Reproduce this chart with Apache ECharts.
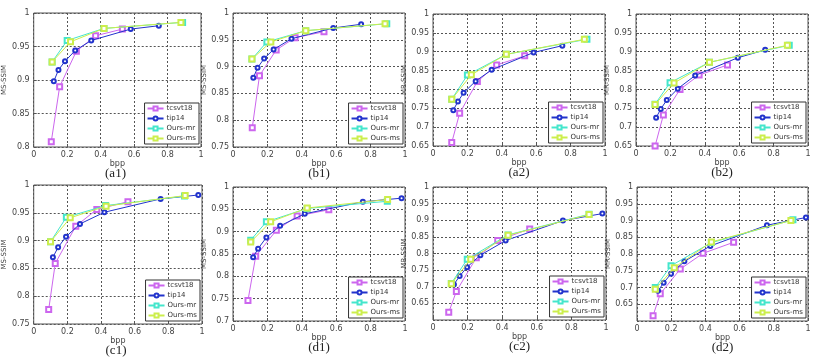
<!DOCTYPE html>
<html>
<head>
<meta charset="utf-8">
<script src="https://cdn.jsdelivr.net/npm/echarts@6/dist/echarts.min.js"></script>
<style>
  html, body { margin: 0; padding: 0; background: #fff; }
  #chart { width: 831px; height: 362px; }
</style>
</head>
<body>
<div id="chart"></div>
<script>
// series names, in legend order
const seriesNames = ['tcsvt18', 'tip14', 'Ours-mr', 'Ours-ms'];
const xTicks = [0, 0.2, 0.4, 0.6, 0.8, 1];

// (a1)
const a1Tcsvt18 = [[0.105, 0.808], [0.155, 0.890], [0.255, 0.943], [0.37, 0.966], [0.53, 0.976]];
const a1Tip14 = [[0.12, 0.898], [0.148, 0.915], [0.187, 0.928], [0.248, 0.944], [0.344, 0.959], [0.58, 0.976], [0.748, 0.981]];
const a1Mr = [[0.11, 0.927], [0.2, 0.959], [0.42, 0.977], [0.89, 0.986]];
const a1Ms = [[0.11, 0.927], [0.22, 0.957], [0.42, 0.977], [0.88, 0.986]];
// (b1)
const b1Tcsvt18 = [[0.112, 0.786], [0.154, 0.883], [0.251, 0.931], [0.361, 0.954], [0.529, 0.965]];
const b1Tip14 = [[0.118, 0.879], [0.143, 0.898], [0.181, 0.915], [0.236, 0.932], [0.34, 0.952], [0.583, 0.972], [0.745, 0.979]];
const b1Mr = [[0.11, 0.914], [0.197, 0.946], [0.423, 0.967], [0.894, 0.980]];
const b1Ms = [[0.11, 0.914], [0.22, 0.946], [0.423, 0.967], [0.884, 0.980]];
// (a2)
const a2Tcsvt18 = [[0.109, 0.659], [0.155, 0.737], [0.258, 0.821], [0.37, 0.865], [0.533, 0.889]];
const a2Tip14 = [[0.118, 0.745], [0.145, 0.768], [0.178, 0.791], [0.248, 0.822], [0.341, 0.852], [0.585, 0.898], [0.752, 0.916]];
const a2Mr = [[0.109, 0.774], [0.2, 0.838], [0.426, 0.893], [0.895, 0.933]];
const a2Ms = [[0.109, 0.774], [0.223, 0.839], [0.426, 0.893], [0.88, 0.933]];
// (b2)
const b2Tcsvt18 = [[0.111, 0.650], [0.159, 0.732], [0.256, 0.800], [0.367, 0.838], [0.532, 0.865]];
const b2Tip14 = [[0.117, 0.725], [0.144, 0.748], [0.179, 0.772], [0.243, 0.802], [0.344, 0.837], [0.592, 0.884], [0.751, 0.905]];
const b2Mr = [[0.111, 0.761], [0.198, 0.818], [0.427, 0.872], [0.891, 0.917]];
const b2Ms = [[0.111, 0.760], [0.221, 0.817], [0.427, 0.872], [0.88, 0.917]];
// (c1)
const c1Tcsvt18 = [[0.089, 0.776], [0.128, 0.859], [0.25, 0.926], [0.375, 0.956], [0.56, 0.970]];
const c1Tip14 = [[0.114, 0.870], [0.145, 0.888], [0.192, 0.907], [0.275, 0.930], [0.42, 0.951], [0.754, 0.975], [0.978, 0.982]];
const c1Mr = [[0.10, 0.898], [0.194, 0.942], [0.427, 0.963], [0.896, 0.980]];
const c1Ms = [[0.10, 0.898], [0.217, 0.941], [0.43, 0.962], [0.90, 0.981]];
// (d1)
const d1Tcsvt18 = [[0.087, 0.746], [0.132, 0.845], [0.252, 0.903], [0.373, 0.935], [0.557, 0.949]];
const d1Tip14 = [[0.117, 0.843], [0.146, 0.862], [0.194, 0.887], [0.274, 0.913], [0.417, 0.940], [0.755, 0.967], [0.98, 0.975]];
const d1Mr = [[0.103, 0.881], [0.194, 0.922], [0.431, 0.952], [0.897, 0.968]];
const d1Ms = [[0.103, 0.877], [0.219, 0.922], [0.431, 0.953], [0.899, 0.972]];
// (c2)
const c2Tcsvt18 = [[0.091, 0.623], [0.135, 0.686], [0.25, 0.787], [0.374, 0.839], [0.559, 0.874]];
const c2Tip14 = [[0.121, 0.707], [0.154, 0.732], [0.197, 0.759], [0.274, 0.795], [0.42, 0.839], [0.751, 0.899], [0.979, 0.920]];
const c2Mr = [[0.106, 0.710], [0.198, 0.783], [0.434, 0.856], [0.902, 0.918]];
const c2Ms = [[0.106, 0.709], [0.218, 0.783], [0.434, 0.855], [0.902, 0.917]];
// (d2)
const d2Tcsvt18 = [[0.094, 0.616], [0.136, 0.681], [0.253, 0.755], [0.386, 0.802], [0.565, 0.835]];
const d2Tip14 = [[0.123, 0.690], [0.156, 0.714], [0.199, 0.741], [0.277, 0.778], [0.429, 0.824], [0.76, 0.886], [0.988, 0.909]];
const d2Mr = [[0.107, 0.700], [0.199, 0.765], [0.435, 0.834], [0.912, 0.902]];
const d2Ms = [[0.107, 0.695], [0.218, 0.759], [0.435, 0.836], [0.90, 0.900]];

const yMins = [0.8, 0.75, 0.65, 0.65, 0.75, 0.7, 0.6, 0.6];
const yNames = ['MS-SSIM', 'MS-SSIM', 'MR-SSIM', 'MR-SSIM', 'MS-SSIM', 'MS-SSIM', 'MR-SSIM', 'MR-SSIM'];
const captions = ['(a1)', '(b1)', '(a2)', '(b2)', '(c1)', '(d1)', '(c2)', '(d2)'];

const panelData = [
  [a1Tcsvt18, a1Tip14, a1Mr, a1Ms],
  [b1Tcsvt18, b1Tip14, b1Mr, b1Ms],
  [a2Tcsvt18, a2Tip14, a2Mr, a2Ms],
  [b2Tcsvt18, b2Tip14, b2Mr, b2Ms],
  [c1Tcsvt18, c1Tip14, c1Mr, c1Ms],
  [d1Tcsvt18, d1Tip14, d1Mr, d1Ms],
  [c2Tcsvt18, c2Tip14, c2Mr, c2Ms],
  [d2Tcsvt18, d2Tip14, d2Mr, d2Ms]
];

// plot boxes: left, top, right, bottom (px)
const boxes = [
  [30, 13, 201, 147], [233, 13, 405, 147], [433, 14, 605, 146], [636, 14, 808, 146],
  [30, 185, 202, 324], [233, 187, 405, 321], [433, 187, 606, 320], [637, 187, 808, 321]
];

const colors = ['#cc66ee', '#2233cc', '#44e6cc', '#ccee4c'];
const symbols = ['emptyRect', 'emptyCircle', 'emptyRect', 'emptyRect'];

const chart = echarts.init(document.getElementById('chart'));

const grids = [], xAxes = [], yAxes = [], series = [], legends = [], texts = [];

boxes.forEach((b, i) => {
  const [L, T, R, B] = b;
  grids.push({
    left: L, top: T, width: R - L, height: B - T,
    show: true, borderColor: '#555', borderWidth: 1, backgroundColor: '#fff'
  });
  xAxes.push({
    gridIndex: i, type: 'value', min: 0, max: 1, interval: 0.2,
    name: 'bpp', nameLocation: 'middle', nameGap: 13,
    nameTextStyle: { fontSize: 8, color: '#444', fontFamily: 'DejaVu Sans' },
    axisLine: { show: false },
    axisTick: { inside: true, length: 3, lineStyle: { color: '#555' } },
    axisLabel: { fontSize: 8, color: '#444', margin: 4, fontFamily: 'DejaVu Sans' },
    splitLine: { lineStyle: { type: [2, 2], color: '#555', width: 1 } }
  });
  yAxes.push({
    gridIndex: i, type: 'value', min: yMins[i], max: 1, interval: 0.05,
    name: yNames[i], nameLocation: 'middle', nameGap: 20,
    nameTextStyle: { fontSize: 7, color: '#444', fontFamily: 'DejaVu Sans' },
    axisLine: { show: false },
    axisTick: { inside: true, length: 3, lineStyle: { color: '#555' } },
    axisLabel: {
      fontSize: 8, color: '#444', margin: 4, fontFamily: 'DejaVu Sans',
      showMinLabel: yMins[i] !== 0.6
    },
    splitLine: { lineStyle: { type: [2, 2], color: '#555', width: 1 } }
  });
  panelData[i].forEach((d, k) => {
    series.push({
      name: seriesNames[k], type: 'line', xAxisIndex: i, yAxisIndex: i,
      data: d, symbol: symbols[k], symbolSize: k === 1 ? 4 : 5,
      color: colors[k], lineStyle: { width: 1, color: colors[k] },
      itemStyle: { color: colors[k], borderWidth: 1 },
      z: 2 + k, animation: false
    });
  });
  legends.push({
    orient: 'vertical', right: 831 - R + 2, bottom: 362 - B + 3,
    data: seriesNames, itemWidth: 16, itemHeight: 5, itemGap: 3,
    padding: [2, 3, 2, 2], backgroundColor: '#fff',
    borderColor: '#333', borderWidth: 1, borderRadius: 0,
    textStyle: { fontSize: 7, color: '#333', fontFamily: 'DejaVu Sans', padding: [0, 0, 0, -2] },
    selectedMode: false
  });
  texts.push({
    type: 'text', x: (L + R) / 2, y: B + 20,
    style: { text: captions[i], font: '13px "Liberation Serif"', fill: '#222', textAlign: 'center' }
  });
});

chart.setOption({
  animation: false,
  grid: grids,
  xAxis: xAxes,
  yAxis: yAxes,
  legend: legends,
  series: series,
  graphic: texts
});
</script>
</body>
</html>
